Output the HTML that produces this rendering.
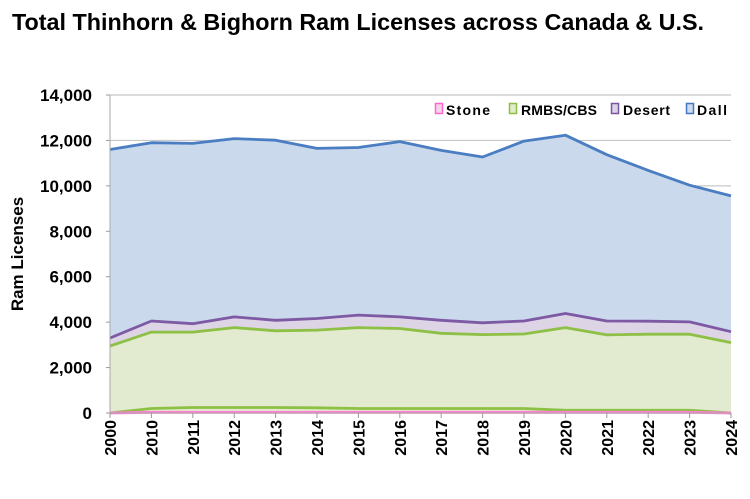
<!DOCTYPE html>
<html><head><meta charset="utf-8"><style>
body{margin:0;background:#fff;width:750px;height:494px;overflow:hidden;font-family:"Liberation Sans",sans-serif}
</style></head><body>
<svg id="s" width="750" height="494" xmlns="http://www.w3.org/2000/svg" font-family="Liberation Sans, sans-serif">
<text x="12" y="30" font-size="23" font-weight="bold" fill="#000" textLength="692" lengthAdjust="spacingAndGlyphs">Total Thinhorn &amp; Bighorn Ram Licenses across Canada &amp; U.S.</text>
<g id="grid"></g>
<g id="areas"></g>
<text transform="translate(23,254) rotate(-90)" text-anchor="middle" font-size="17" font-weight="bold">Ram Licenses</text>
<g font-weight="bold">
<rect x="435.5" y="103.5" width="7" height="10" fill="#f4d4ec" stroke="#ff66cc" stroke-width="1.5"/>
<text x="446" y="115" font-size="14" textLength="44">Stone</text>
<rect x="509.5" y="103.5" width="7" height="10" fill="#e1ecce" stroke="#8cbf40" stroke-width="1.5"/>
<text x="521" y="115" font-size="14" textLength="76">RMBS/CBS</text>
<rect x="611.5" y="103.5" width="7" height="10" fill="#ddd3e6" stroke="#7a55a0" stroke-width="1.5"/>
<text x="623" y="115" font-size="14" textLength="47">Desert</text>
<rect x="686.5" y="103.5" width="7" height="10" fill="#cddbed" stroke="#4577c0" stroke-width="1.5"/>
<text x="697" y="115" font-size="14" textLength="30">Dall</text>
</g>
</svg>
<script>
var ns="http://www.w3.org/2000/svg",s=document.getElementById('s');
function el(t,a,p){var e=document.createElementNS(ns,t);for(var k in a)e.setAttribute(k,a[k]);(p||s).appendChild(e);return e;}
var X0=110,X1=731,n=16,st=(X1-X0)/15;
function px(i){return X0+i*st}
function py(v){return 413-v*318/14000}
var g=document.getElementById('grid'),ar=document.getElementById('areas');
for(var v=0;v<=14000;v+=2000){var y=py(v);
 el('line',{x1:X0,x2:X1,y1:y,y2:y,stroke:'#c8c8c8','stroke-width':1.2},g);
 var t=el('text',{x:92,y:y+6,'text-anchor':'end','font-size':17,'font-weight':'bold'},g);t.textContent=v.toLocaleString('en-US');
 el('line',{x1:X0-4,x2:X0,y1:y,y2:y,stroke:'#999'},g);}
var dall=[11600,11900,11870,12080,12010,11650,11690,11950,11560,11270,11970,12230,11370,10680,10030,9560];
var des=[3300,4050,3930,4230,4080,4160,4310,4230,4080,3970,4050,4380,4050,4040,4010,3580];
var rm=[2950,3560,3560,3760,3620,3650,3760,3720,3510,3450,3480,3760,3440,3470,3470,3100];
var sto=[0,200,240,240,240,230,200,200,200,200,200,120,120,120,120,0];
var stn=[0,30,30,30,30,30,30,30,30,30,30,30,30,30,30,0];
function pts(a){return a.map(function(v,i){return px(i).toFixed(1)+','+py(v).toFixed(1)}).join(' ')}
function area(top,bot,fill,stroke){
 var p=pts(top)+' '+pts(bot).split(' ').reverse().join(' ');
 el('polygon',{points:p,fill:fill},ar);
 el('polyline',{points:pts(top),fill:'none',stroke:stroke,'stroke-width':2.8,'stroke-linejoin':'round'},ar);}
var z=dall.map(function(){return 0});
area(dall,des,'#cad9eb','#4a7dc2');
area(des,rm,'#ddd4e6','#7d5aa3');
area(rm,sto,'#e2ebcf','#8dc045');
area(sto,stn,'#e2ebcf','#8dc045');
area(stn,z,'#f6d6ee','#ff7fd0');
el('line',{x1:X0,x2:X0,y1:95,y2:413,stroke:'#aaa','stroke-width':1},ar);
el('line',{x1:X0,x2:X1,y1:413,y2:413,stroke:'#aaa','stroke-width':1},ar);
var yrs=['2000','2010','2011','2012','2013','2014','2015','2016','2017','2018','2019','2020','2021','2022','2023','2024'];
yrs.forEach(function(y,i){var x=px(i);
 el('line',{x1:x,x2:x,y1:413,y2:418,stroke:'#999'});
 var t=el('text',{transform:'translate('+(x+6)+',420) rotate(-90)','text-anchor':'end','font-size':16,'font-weight':'bold'});t.textContent=y;});
</script>
</body></html>
